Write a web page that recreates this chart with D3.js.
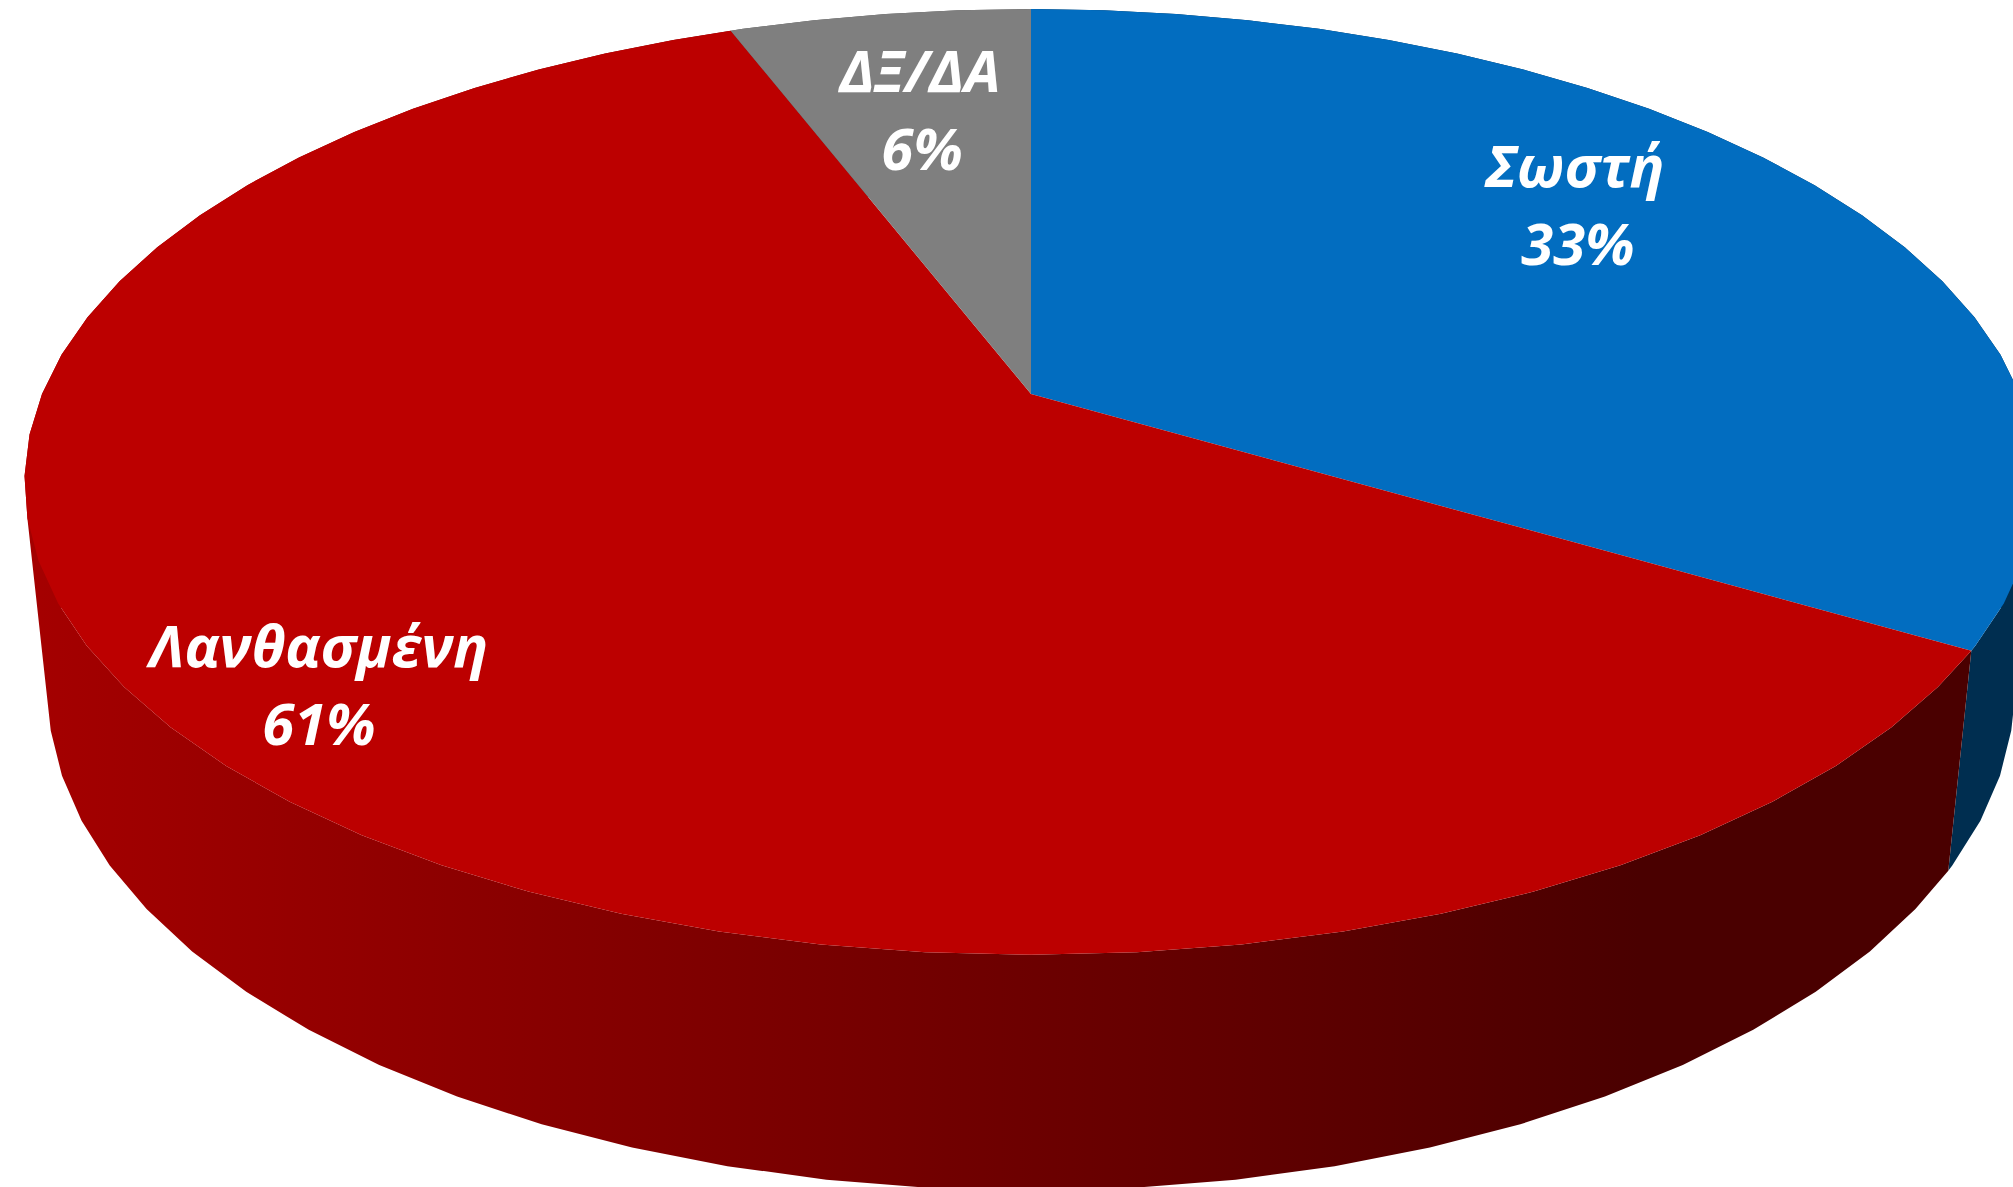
<!DOCTYPE html>
<html><head><meta charset="utf-8">
<script src="https://cdn.jsdelivr.net/npm/d3@7/dist/d3.min.js"></script>
<style>html,body{margin:0;padding:0;background:#fff;overflow:hidden}svg{display:block}</style>
</head><body><svg id="c" width="2013" height="1187"></svg>
<script>
const categories = ["Σωστή", "Λανθασμένη", "ΔΞ/ΔΑ"];
const values = [33.5, 60.7, 5.8];
const percentLabels = ["33%", "61%", "6%"];
const topColors = ["#026DC0", "#BC0000", "#7F7F7F"];
const wallStops = [["#002E50", "#002E50"], ["#A40000", "#4A0000"], ["#5A5A5A", "#5A5A5A"]];
const nameX = [1575, 319, 920];
const percentX = [1578, 319, 922];
const labelY = [187, 667, 92];
const lineGap = 78;

const svg = d3.select("#c");
const cx = 1031, cy = 394, a = 989, b = 456.5, k = 0.186;
const drop = 210, dropW = 0.0227, stepDeg = 5;

function project(t, lower) {
  const w = 1 + k * Math.cos(t) + (lower ? dropW : 0);
  return [cx + a * Math.sin(t) / w, cy + (-b * Math.cos(t) + (lower ? drop : 0)) / w];
}
const arcs = d3.pie().sort(null).value(d => d)(values);
const step = stepDeg * Math.PI / 180;
function samples(s, e) {
  const first = Math.ceil(s / step + 1e-6), last = Math.floor(e / step - 1e-6);
  return [s, ...d3.range(first, last + 1).map(i => i * step), e];
}
const defs = svg.append("defs");
wallStops.forEach((st, i) => {
  const g = defs.append("linearGradient").attr("id", "wall" + i)
    .attr("gradientUnits", "userSpaceOnUse")
    .attr("x1", 40).attr("x2", 1640).attr("y1", 0).attr("y2", 0);
  g.append("stop").attr("offset", 0).attr("stop-color", st[0]);
  g.append("stop").attr("offset", 1).attr("stop-color", st[1]);
});
const line = d3.line();

// Side walls: one path per slice, every facet wound the same way so no seams show
svg.append("g").selectAll("path").data(arcs).join("path")
  .attr("d", d => d3.pairs(samples(d.startAngle, d.endAngle)).map(([p, q]) => {
    const quad = [project(p, false), project(q, false), project(q, true), project(p, true)];
    if (d3.polygonArea(quad) < 0) quad.reverse();
    return line(quad) + "Z";
  }).join(""))
  .attr("fill", (d, i) => `url(#wall${i})`);

// Top face
svg.append("g").selectAll("path").data(arcs).join("path")
  .attr("d", d => line([[cx, cy], ...samples(d.startAngle, d.endAngle).map(t => project(t, false))]) + "Z")
  .attr("fill", (d, i) => topColors[i]);

// Labels
const labels = svg.append("g")
  .attr("font-family", "'Open Sans', 'Noto Sans', sans-serif")
  .attr("font-style", "italic").attr("font-weight", 700)
  .attr("font-size", 58).attr("fill", "#fff").attr("text-anchor", "middle");
categories.forEach((c, i) => {
  labels.append("text").attr("x", nameX[i]).attr("y", labelY[i]).text(c);
  labels.append("text").attr("x", percentX[i]).attr("y", labelY[i] + lineGap).text(percentLabels[i]);
});
</script></body></html>
